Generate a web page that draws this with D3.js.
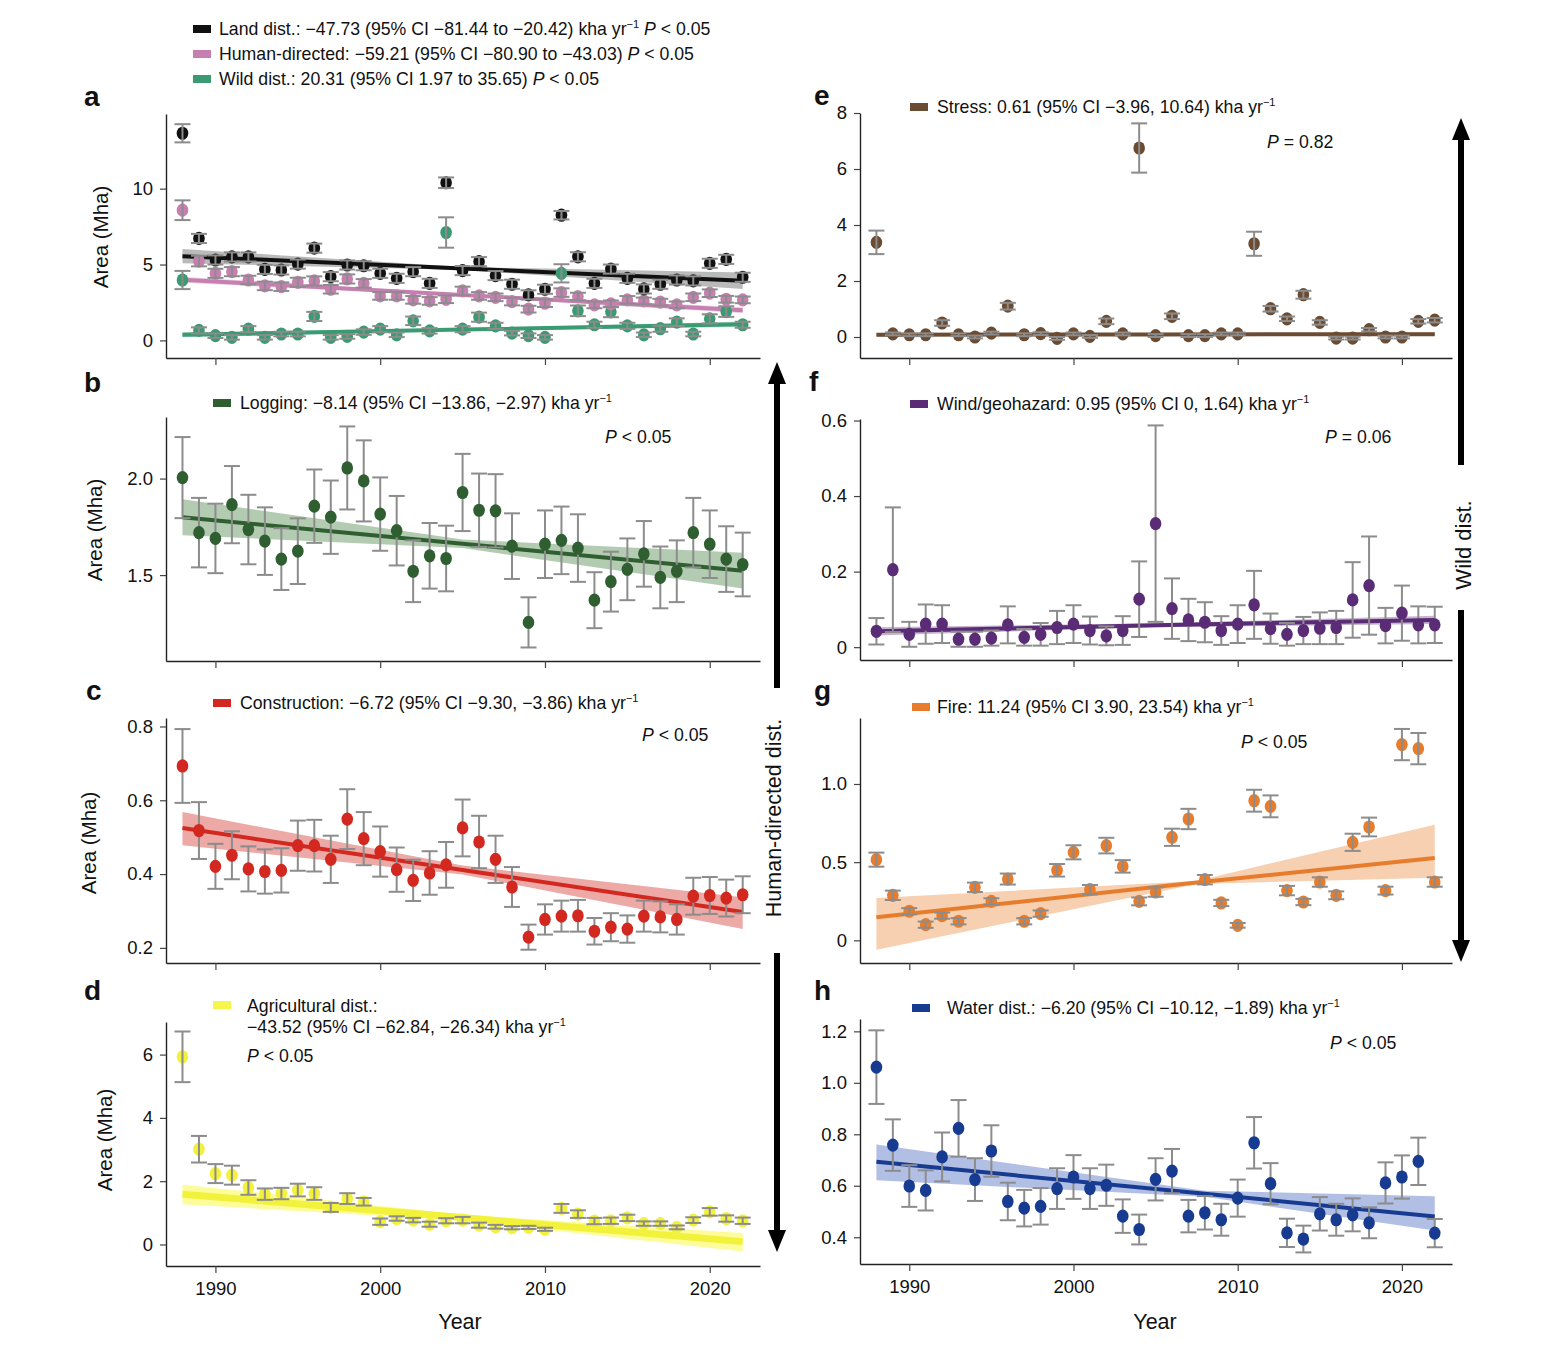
<!DOCTYPE html>
<html>
<head>
<meta charset="utf-8">
<script src="https://cdn.jsdelivr.net/npm/d3@7/dist/d3.min.js"></script>
<style>
  body { margin: 0; background: #fff; }
  text { font-family: "Liberation Sans", Arial, sans-serif; fill: #111; }
</style>
</head>
<body>
<svg id="chart" width="1568" height="1346"></svg>
<script>
// years on the x axis
const years = [1988, 1989, 1990, 1991, 1992, 1993, 1994, 1995, 1996, 1997, 1998, 1999, 2000, 2001, 2002,
  2003, 2004, 2005, 2006, 2007, 2008, 2009, 2010, 2011, 2012, 2013, 2014, 2015, 2016, 2017, 2018, 2019,
  2020, 2021, 2022];
const xTicks = [1990, 2000, 2010, 2020];

// panel a
const landVals = [13.65, 6.72, 5.3, 5.5, 5.5, 4.68, 4.64, 5.03, 6.08, 4.2, 4.97, 4.92, 4.42, 4.09, 4.53, 3.76,
  10.39, 4.6, 5.19, 4.27, 3.7, 3.0, 3.37, 8.25, 5.51, 3.76, 4.7, 4.09, 3.39, 3.7, 3.98, 3.92, 5.08, 5.34, 4.16];
const landErr = [0.6, 0.3, 0.3, 0.3, 0.3, 0.3, 0.3, 0.3, 0.3, 0.3, 0.3, 0.3, 0.3, 0.3, 0.3, 0.3, 0.35, 0.3,
  0.3, 0.3, 0.3, 0.3, 0.3, 0.28, 0.3, 0.3, 0.3, 0.3, 0.3, 0.3, 0.3, 0.3, 0.3, 0.3, 0.3];
const humanVals = [8.58, 5.23, 4.42, 4.53, 3.98, 3.59, 3.54, 3.83, 3.92, 3.37, 4.05, 3.76, 2.93, 2.93, 2.67,
  2.6, 2.71, 3.26, 2.93, 2.84, 2.56, 2.06, 2.45, 3.15, 2.89, 2.34, 2.41, 2.67, 2.6, 2.52, 2.34, 2.84, 3.11,
  2.71, 2.67];
const humanErr = [0.65, 0.35, 0.3, 0.3, 0.28, 0.28, 0.28, 0.3, 0.3, 0.28, 0.3, 0.28, 0.25, 0.25, 0.25, 0.25,
  0.25, 0.28, 0.25, 0.25, 0.25, 0.22, 0.25, 0.28, 0.25, 0.22, 0.22, 0.25, 0.22, 0.22, 0.22, 0.25, 0.25, 0.22,
  0.22];
const wildVals = [3.98, 0.66, 0.31, 0.2, 0.74, 0.2, 0.42, 0.42, 1.58, 0.2, 0.26, 0.55, 0.74, 0.37, 1.29, 0.63,
  7.11, 0.74, 1.53, 0.96, 0.48, 0.31, 0.2, 4.42, 1.95, 1.03, 1.88, 0.96, 0.37, 0.77, 1.2, 0.42, 1.42, 1.9, 1.03];
const wildErr = [0.6, 0.2, 0.15, 0.15, 0.2, 0.15, 0.15, 0.15, 0.3, 0.15, 0.15, 0.18, 0.2, 0.15, 0.28, 0.18,
  1.0, 0.2, 0.3, 0.2, 0.15, 0.15, 0.15, 0.6, 0.35, 0.2, 0.35, 0.2, 0.15, 0.2, 0.25, 0.15, 0.3, 0.35, 0.2];
// trend rows: [year, lower, fit, upper]
const landTrend = [[1988, 5.08, 5.55, 6.02], [2005, 4.64, 4.74, 4.84], [2022, 3.38, 3.93, 4.48]];
const humanTrend = [[1988, 3.8, 4.0, 4.2], [2005, 2.91, 2.99, 3.07], [2022, 1.79, 1.99, 2.19]];
const wildTrend = [[1988, 0.2, 0.37, 0.54], [2005, 0.65, 0.715, 0.78], [2022, 0.88, 1.06, 1.24]];

// panel b
const loggingVals = [2.005, 1.72, 1.69, 1.865, 1.736, 1.676, 1.583, 1.624, 1.857, 1.8, 2.055, 1.988, 1.816,
  1.73, 1.52, 1.6, 1.586, 1.928, 1.836, 1.833, 1.65, 1.255, 1.66, 1.68, 1.64, 1.37, 1.466, 1.53, 1.61, 1.488,
  1.52, 1.72, 1.66, 1.583, 1.555];
const loggingErr = [0.21, 0.18, 0.18, 0.2, 0.18, 0.175, 0.16, 0.17, 0.19, 0.19, 0.215, 0.21, 0.19, 0.18, 0.16,
  0.17, 0.17, 0.2, 0.19, 0.19, 0.17, 0.13, 0.175, 0.175, 0.175, 0.145, 0.155, 0.16, 0.17, 0.16, 0.16, 0.18,
  0.175, 0.17, 0.165];
const loggingTrend = [[1988, 1.707, 1.8, 1.893], [2005, 1.64, 1.662, 1.684], [2022, 1.43, 1.523, 1.616]];

// panel c
const constructionVals = [0.693, 0.518, 0.421, 0.451, 0.414, 0.407, 0.41, 0.477, 0.477, 0.44, 0.549, 0.496,
  0.461, 0.412, 0.383, 0.403, 0.425, 0.525, 0.487, 0.44, 0.365, 0.229, 0.277, 0.286, 0.287, 0.245, 0.256,
  0.251, 0.286, 0.284, 0.277, 0.34, 0.342, 0.335, 0.344];
const constructionErr = [0.1, 0.077, 0.061, 0.065, 0.061, 0.06, 0.06, 0.068, 0.07, 0.064, 0.081, 0.072,
  0.068, 0.06, 0.056, 0.059, 0.062, 0.077, 0.071, 0.064, 0.054, 0.034, 0.041, 0.042, 0.043, 0.036, 0.038,
  0.037, 0.042, 0.042, 0.041, 0.05, 0.05, 0.05, 0.05];
const constructionTrend = [[1988, 0.478, 0.525, 0.568], [2005, 0.399, 0.411, 0.423], [2022, 0.251, 0.297, 0.337]];

// panel d
const agriVals = [5.93, 3.01, 2.24, 2.19, 1.8, 1.59, 1.61, 1.72, 1.61, 1.17, 1.45, 1.35, 0.72, 0.82, 0.77,
  0.64, 0.75, 0.77, 0.61, 0.56, 0.53, 0.54, 0.48, 1.14, 0.96, 0.74, 0.75, 0.84, 0.66, 0.66, 0.54, 0.77, 1.03,
  0.82, 0.75];
const agriErr = [0.8, 0.42, 0.3, 0.3, 0.23, 0.18, 0.18, 0.2, 0.2, 0.14, 0.17, 0.12, 0.1, 0.07, 0.07, 0.08,
  0.08, 0.1, 0.08, 0.06, 0.05, 0.05, 0.05, 0.14, 0.12, 0.1, 0.1, 0.1, 0.07, 0.07, 0.06, 0.09, 0.12, 0.1, 0.1];
const agriTrend = [[1988, 1.27, 1.59, 1.89], [2005, 0.76, 0.85, 0.94], [2022, -0.22, 0.09, 0.36]];

// panel e
const stressVals = [3.38, 0.11, 0.08, 0.08, 0.5, 0.08, 0.0, 0.14, 1.1, 0.08, 0.12, -0.05, 0.11, 0.02, 0.56,
  0.11, 6.75, 0.05, 0.74, 0.05, 0.05, 0.11, 0.11, 3.33, 1.01, 0.65, 1.51, 0.52, -0.04, -0.04, 0.26, 0.0, 0.0,
  0.56, 0.6];
const stressErr = [0.42, 0.05, 0.05, 0.05, 0.1, 0.05, 0.05, 0.05, 0.12, 0.05, 0.05, 0.05, 0.05, 0.05, 0.1,
  0.05, 0.88, 0.05, 0.1, 0.05, 0.05, 0.05, 0.05, 0.43, 0.1, 0.08, 0.14, 0.08, 0.05, 0.05, 0.06, 0.05, 0.05,
  0.08, 0.08];
const stressTrend = [[1988, 0.02, 0.08, 0.14], [2005, 0.07, 0.09, 0.11], [2022, 0.04, 0.1, 0.16]];

// panel f
const windVals = [0.042, 0.205, 0.034, 0.061, 0.061, 0.021, 0.021, 0.024, 0.059, 0.026, 0.034, 0.052, 0.061,
  0.044, 0.03, 0.044, 0.127, 0.327, 0.102, 0.072, 0.066, 0.044, 0.061, 0.112, 0.049, 0.034, 0.044, 0.05,
  0.052, 0.125, 0.163, 0.057, 0.09, 0.059, 0.059];
const windErr = [0.035, 0.165, 0.033, 0.052, 0.05, 0.02, 0.02, 0.02, 0.049, 0.022, 0.03, 0.044, 0.05, 0.037,
  0.025, 0.038, 0.1, 0.26, 0.08, 0.056, 0.053, 0.038, 0.05, 0.09, 0.04, 0.03, 0.036, 0.042, 0.044, 0.1, 0.13,
  0.047, 0.073, 0.049, 0.048];
const windTrend = [[1988, 0.031, 0.042, 0.053], [2005, 0.053, 0.058, 0.063], [2022, 0.061, 0.072, 0.083]];

// panel g
const fireVals = [0.516, 0.288, 0.186, 0.1, 0.158, 0.122, 0.339, 0.249, 0.392, 0.122, 0.171, 0.448, 0.563,
  0.324, 0.606, 0.473, 0.249, 0.309, 0.659, 0.776, 0.388, 0.239, 0.096, 0.893, 0.857, 0.318, 0.245, 0.373,
  0.288, 0.627, 0.725, 0.318, 1.252, 1.226, 0.373];
const fireErr = [0.045, 0.03, 0.02, 0.02, 0.02, 0.02, 0.03, 0.02, 0.035, 0.02, 0.02, 0.04, 0.045, 0.03, 0.05,
  0.04, 0.025, 0.03, 0.055, 0.065, 0.03, 0.02, 0.015, 0.07, 0.07, 0.03, 0.02, 0.03, 0.025, 0.055, 0.06, 0.025,
  0.1, 0.1, 0.03];
const fireTrend = [[1988, -0.06, 0.147, 0.27], [2007.5, 0.36, 0.37, 0.38], [2022, 0.4, 0.527, 0.74]];

// panel h
const waterVals = [1.061, 0.758, 0.599, 0.582, 0.712, 0.823, 0.624, 0.735, 0.539, 0.513, 0.52, 0.589, 0.634,
  0.589, 0.602, 0.482, 0.43, 0.625, 0.657, 0.482, 0.495, 0.468, 0.552, 0.767, 0.608, 0.417, 0.393, 0.491,
  0.468, 0.487, 0.456, 0.611, 0.634, 0.695, 0.416];
const waterErr = [0.143, 0.1, 0.081, 0.078, 0.095, 0.11, 0.083, 0.1, 0.073, 0.071, 0.071, 0.079, 0.085,
  0.079, 0.08, 0.065, 0.058, 0.082, 0.086, 0.063, 0.065, 0.062, 0.072, 0.1, 0.08, 0.055, 0.052, 0.065, 0.062,
  0.064, 0.06, 0.08, 0.084, 0.092, 0.055];
const waterTrend = [[1988, 0.621, 0.693, 0.76], [2008, 0.557, 0.569, 0.581], [2022, 0.426, 0.481, 0.559]];

const svg = d3.select('#chart');
const barColor = '#8c8c8c';
const LEGEND_SIZE = 17.7;

// draws text made of plain / superscript / italic segments
function richText(parent, x, y, segs, size) {
  let t = parent.append('text').attr('x', x).attr('y', y).attr('font-size', size);
  let raised = false;
  segs.forEach(s => {
    let sp = t.append('tspan').text(s.t);
    if(s.sup) {
      sp.attr('font-size', size * 0.62).attr('dy', -size * 0.42);
      raised = true;
    } else if(raised) {
      sp.attr('dy', size * 0.42);
      raised = false;
    }
    if(s.it) sp.attr('font-style', 'italic');
  });
  return t;
}

function drawPanel (p) {
  let x = d3.scaleLinear().domain([1987, 2023.05]).range([p.left, p.right]);
  let y = d3.scaleLinear().domain(p.yDomain).range([p.bottom, p.top]);
  let g = svg.append('g');

  let yAxis = d3.axisLeft(y).tickValues(p.yTicks).tickFormat(p.fmt)
    .tickSize(6).tickSizeOuter(0).tickPadding(7);
  let ya = g.append('g').attr('transform', 'translate(' + p.left + ',0)').call(yAxis);
  let xAxis = d3.axisBottom(x).tickValues(xTicks)
    .tickFormat(p.xLabels ? d3.format('d') : () => '')
    .tickSize(7).tickSizeOuter(0).tickPadding(9);
  let xa = g.append('g').attr('transform', 'translate(0,' + p.bottom + ')').call(xAxis);
  [ya, xa].forEach(a => {
    a.selectAll('text').attr('font-size', 18.5).attr('fill', '#111');
    a.select('.domain').attr('stroke', '#222').attr('stroke-width', 1.4);
    a.selectAll('.tick line').attr('stroke', '#444').attr('stroke-width', 1.2);
  });

  let band = d3.area().x(d => x(d[0])).y0(d => y(d[1])).y1(d => y(d[3]));
  let fit = d3.line().x(d => x(d[0])).y(d => y(d[2]));

  p.series.forEach(s => {
    g.append('path').attr('d', band(s.trend))
      .attr('fill', s.bandColor || s.color).attr('opacity', s.bandOpacity || 0.45);
  });
  p.series.forEach(s => {
    g.append('path').attr('d', fit(s.trend)).attr('fill', 'none')
      .attr('stroke', s.color).attr('stroke-width', s.lineWidth || 4);
  });

  p.series.forEach(s => {
    let pts = years.map((yr, i) => ({yr: yr, v: s.vals[i], e: s.err[i]}));
    let bars = g.append('g');
    let dots = g.append('g');
    if(p.barsOnTop) bars.raise();
    let bar = bars.selectAll('g').data(pts).enter().append('g')
      .attr('stroke', barColor).attr('stroke-width', 2);
    bar.append('line')
      .attr('x1', d => x(d.yr)).attr('x2', d => x(d.yr))
      .attr('y1', d => y(d.v - d.e)).attr('y2', d => y(d.v + d.e));
    bar.append('line')
      .attr('x1', d => x(d.yr) - 8).attr('x2', d => x(d.yr) + 8)
      .attr('y1', d => y(d.v + d.e)).attr('y2', d => y(d.v + d.e));
    bar.append('line')
      .attr('x1', d => x(d.yr) - 8).attr('x2', d => x(d.yr) + 8)
      .attr('y1', d => y(d.v - d.e)).attr('y2', d => y(d.v - d.e));
    dots.selectAll('ellipse').data(pts).enter().append('ellipse')
      .attr('cx', d => x(d.yr)).attr('cy', d => y(d.v))
      .attr('rx', 5.8).attr('ry', 6.6)
      .attr('fill', s.color);
  });

  if(p.yTitle) {
    g.append('text')
      .attr('transform', 'translate(' + p.yTitle[0] + ',' + p.yTitle[1] + ') rotate(-90)')
      .attr('text-anchor', 'middle').attr('font-size', 20.5).text('Area (Mha)');
  }
  g.append('text').attr('x', p.letter[0]).attr('y', p.letter[1])
    .attr('font-size', 28).attr('font-weight', 900).text(p.letter[2]);

  p.legend.forEach(l => {
    if(l.swatch) {
      g.append('rect').attr('x', l.swatch[0]).attr('y', l.swatch[1] - 4)
        .attr('width', 18).attr('height', 8).attr('fill', l.swatch[2]);
    }
    richText(g, l.x, l.y, l.segs, LEGEND_SIZE);
  });
}

const kha = [{t: ' kha yr'}, {t: '−1', sup: true}];
const pLess = [{t: 'P', it: true}, {t: ' < 0.05'}];

const leftX = [166, 760];
const rightX = [860, 1452];
const fmt1 = v => v === 0 ? '0' : d3.format('.1f')(v);

const panels = [
  {
    left: leftX[0], right: leftX[1], top: 114, bottom: 358, yDomain: [-1.16, 14.92],
    yTicks: [0, 5, 10], fmt: d3.format('d'), yTitle: [108, 237], letter: [84, 106, 'a'],
    series: [
      {vals: wildVals, err: wildErr, trend: wildTrend, color: '#3a9a72', bandOpacity: 0.35},
      {vals: humanVals, err: humanErr, trend: humanTrend, color: '#c67fb0', bandOpacity: 0.35},
      {vals: landVals, err: landErr, trend: landTrend, color: '#111', bandColor: '#666', bandOpacity: 0.45},
    ],
    barsOnTop: true,
    legend: [
      {swatch: [193, 29, '#111'], x: 219, y: 35,
        segs: [{t: 'Land dist.: −47.73 (95% CI −81.44 to −20.42)'}].concat(kha, [{t: ' '}], pLess)},
      {swatch: [193, 54, '#c67fb0'], x: 219, y: 60,
        segs: [{t: 'Human-directed: −59.21 (95% CI −80.90 to −43.03) '}].concat(pLess)},
      {swatch: [193, 79, '#3a9a72'], x: 219, y: 85,
        segs: [{t: 'Wild dist.: 20.31 (95% CI 1.97 to 35.65) '}].concat(pLess)},
    ],
  },
  {
    left: leftX[0], right: leftX[1], top: 417, bottom: 661, yDomain: [1.055, 2.319],
    yTicks: [1.5, 2.0], fmt: d3.format('.1f'), yTitle: [102, 530], letter: [84, 392, 'b'],
    series: [{vals: loggingVals, err: loggingErr, trend: loggingTrend, color: '#2f5e30',
      bandColor: '#7fa97d', bandOpacity: 0.6}],
    legend: [
      {swatch: [213, 403, '#2f5e30'], x: 240, y: 409,
        segs: [{t: 'Logging: −8.14 (95% CI −13.86, −2.97)'}].concat(kha)},
      {x: 605, y: 443, segs: pLess},
    ],
  },
  {
    left: leftX[0], right: leftX[1], top: 718, bottom: 963, yDomain: [0.159, 0.823],
    yTicks: [0.2, 0.4, 0.6, 0.8], fmt: d3.format('.1f'), yTitle: [96, 843], letter: [86, 700, 'c'],
    series: [{vals: constructionVals, err: constructionErr, trend: constructionTrend, color: '#d2281f',
      bandColor: '#df6f6b', bandOpacity: 0.6}],
    legend: [
      {swatch: [213, 703, '#d2281f'], x: 240, y: 709,
        segs: [{t: 'Construction: −6.72 (95% CI −9.30, −3.86)'}].concat(kha)},
      {x: 642, y: 741, segs: pLess},
    ],
  },
  {
    left: leftX[0], right: leftX[1], top: 1022, bottom: 1266, yDomain: [-0.68, 7.03],
    yTicks: [0, 2, 4, 6], fmt: d3.format('d'), yTitle: [112, 1140], letter: [84, 1000, 'd'],
    xLabels: true, barsOnTop: true,
    series: [{vals: agriVals, err: agriErr, trend: agriTrend, color: '#f2f23c',
      bandColor: '#fbfb78', bandOpacity: 0.75, lineWidth: 7}],
    legend: [
      {swatch: [213, 1005, '#f5f54a'], x: 247, y: 1012, segs: [{t: 'Agricultural dist.:'}]},
      {x: 247, y: 1033, segs: [{t: '−43.52 (95% CI −62.84, −26.34)'}].concat(kha)},
      {x: 247, y: 1062, segs: pLess},
    ],
  },
  {
    left: rightX[0], right: rightX[1], top: 113, bottom: 358, yDomain: [-0.75, 8.0],
    yTicks: [0, 2, 4, 6, 8], fmt: d3.format('d'), letter: [814, 105, 'e'], barsOnTop: true,
    series: [{vals: stressVals, err: stressErr, trend: stressTrend, color: '#6b4b32', bandOpacity: 0.35}],
    legend: [
      {swatch: [910, 107, '#6b4b32'], x: 937, y: 113,
        segs: [{t: 'Stress: 0.61 (95% CI −3.96, 10.64)'}].concat(kha)},
      {x: 1267, y: 148, segs: [{t: 'P', it: true}, {t: ' = 0.82'}]},
    ],
  },
  {
    left: rightX[0], right: rightX[1], top: 419, bottom: 660, yDomain: [-0.034, 0.604],
    yTicks: [0, 0.2, 0.4, 0.6], fmt: fmt1, letter: [809, 391, 'f'],
    series: [{vals: windVals, err: windErr, trend: windTrend, color: '#5b2c76', bandOpacity: 0.35}],
    legend: [
      {swatch: [910, 404, '#5b2c76'], x: 937, y: 410,
        segs: [{t: 'Wind/geohazard: 0.95 (95% CI 0, 1.64)'}].concat(kha)},
      {x: 1325, y: 443, segs: [{t: 'P', it: true}, {t: ' = 0.06'}]},
    ],
  },
  {
    left: rightX[0], right: rightX[1], top: 718, bottom: 963, yDomain: [-0.145, 1.422],
    yTicks: [0, 0.5, 1.0], fmt: fmt1, letter: [814, 700, 'g'], barsOnTop: true,
    series: [{vals: fireVals, err: fireErr, trend: fireTrend, color: '#e67c2c',
      bandColor: '#f0b17c', bandOpacity: 0.6}],
    legend: [
      {swatch: [912, 707, '#e67c2c'], x: 937, y: 713,
        segs: [{t: 'Fire: 11.24 (95% CI 3.90, 23.54)'}].concat(kha)},
      {x: 1241, y: 748, segs: pLess},
    ],
  },
  {
    left: rightX[0], right: rightX[1], top: 1019, bottom: 1264, yDomain: [0.296, 1.248],
    yTicks: [0.4, 0.6, 0.8, 1.0, 1.2], fmt: d3.format('.1f'), letter: [814, 1000, 'h'], xLabels: true,
    series: [{vals: waterVals, err: waterErr, trend: waterTrend, color: '#183b92',
      bandColor: '#7f95d2', bandOpacity: 0.6}],
    legend: [
      {swatch: [912, 1008, '#183b92'], x: 947, y: 1014,
        segs: [{t: 'Water dist.: −6.20 (95% CI −10.12, −1.89)'}].concat(kha)},
      {x: 1330, y: 1049, segs: pLess},
    ],
  },
];

panels.forEach(drawPanel);

// x axis titles
svg.append('text').attr('x', 460).attr('y', 1329).attr('text-anchor', 'middle')
  .attr('font-size', 21.5).text('Year');
svg.append('text').attr('x', 1155).attr('y', 1329).attr('text-anchor', 'middle')
  .attr('font-size', 21.5).text('Year');

// side arrows
function arrow (x, y1, y2) {
  // from y1 to tip y2
  let dir = y2 < y1 ? 1 : -1;
  svg.append('line').attr('x1', x).attr('x2', x).attr('y1', y1).attr('y2', y2 + dir * 18)
    .attr('stroke', '#000').attr('stroke-width', 6);
  svg.append('path')
    .attr('d', 'M' + (x - 9) + ',' + (y2 + dir * 22) + ' L' + x + ',' + y2 + ' L' + (x + 9) + ',' + (y2 + dir * 22) + 'Z')
    .attr('fill', '#000');
}
arrow(777, 688, 362);
arrow(777, 953, 1252);
arrow(1461, 465, 118);
arrow(1461, 610, 962);

svg.append('text').attr('transform', 'translate(774,818) rotate(-90)')
  .attr('text-anchor', 'middle').attr('dominant-baseline', 'central')
  .attr('font-size', 21.5).text('Human-directed dist.');
svg.append('text').attr('transform', 'translate(1463,545) rotate(-90)')
  .attr('text-anchor', 'middle').attr('dominant-baseline', 'central')
  .attr('font-size', 22).text('Wild dist.');
</script>
</body>
</html>
